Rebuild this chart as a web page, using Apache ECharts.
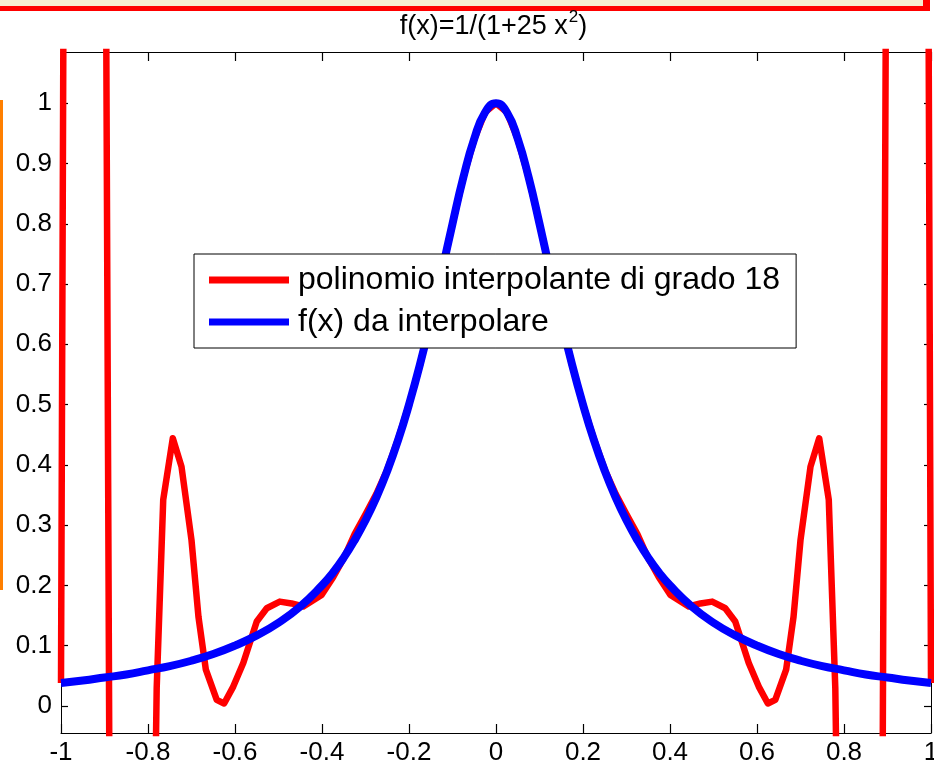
<!DOCTYPE html>
<html>
<head>
<meta charset="utf-8">
<script src="https://cdn.jsdelivr.net/npm/echarts@6/dist/echarts.min.js"></script>
<style>
  html, body { margin: 0; padding: 0; background: #ffffff; }
  #chart { width: 934px; height: 769px; }
</style>
</head>
<body>
<div id="chart"></div>
<script>
// Runge example: f(x) = 1/(1+25x^2) and its degree-18 interpolating polynomial
const xTicks = [-1, -0.8, -0.6, -0.4, -0.2, 0, 0.2, 0.4, 0.6, 0.8, 1];
const yTicks = [0, 0.1, 0.2, 0.3, 0.4, 0.5, 0.6, 0.7, 0.8, 0.9, 1];

// degree-18 interpolant (values far outside the box are clipped)
const polyX = [
  -1.000, -0.980, -0.960, -0.940, -0.920, -0.900, -0.880, -0.860, -0.840, -0.820,
  -0.800, -0.780, -0.765, -0.743, -0.723, -0.700, -0.684, -0.667, -0.642, -0.625,
  -0.604, -0.581, -0.550, -0.527, -0.497, -0.470, -0.443, -0.401, -0.374, -0.350,
  -0.325, -0.300, -0.275, -0.250, -0.225, -0.200, -0.175, -0.150, -0.125, -0.100,
  -0.075, -0.050, -0.025, 0.000,
  0.025, 0.050, 0.075, 0.100, 0.125, 0.150, 0.175, 0.200, 0.225, 0.250,
  0.275, 0.300, 0.325, 0.350, 0.374, 0.401, 0.443, 0.470, 0.497, 0.527,
  0.550, 0.581, 0.604, 0.625, 0.642, 0.667, 0.684, 0.700, 0.723, 0.743,
  0.765, 0.780, 0.800, 0.820, 0.840, 0.860, 0.880, 0.900, 0.920, 0.940,
  0.960, 0.980, 1.000
];
const polyY = [
  0.038, 4.0, 12.0, 14.5, 9.0, 1.8, -1.6, -2.8, -3.0, -2.3,
  -1.0, 0.030, 0.342, 0.444, 0.397, 0.275, 0.148, 0.060, 0.010, 0.004,
  0.032, 0.071, 0.140, 0.162, 0.173, 0.170, 0.165, 0.184, 0.214, 0.245,
  0.285, 0.318, 0.352, 0.392, 0.443, 0.500, 0.565, 0.640, 0.718, 0.800,
  0.877, 0.940, 0.985, 1.000,
  0.985, 0.940, 0.877, 0.800, 0.718, 0.640, 0.565, 0.500, 0.443, 0.392,
  0.352, 0.318, 0.285, 0.245, 0.214, 0.184, 0.165, 0.170, 0.173, 0.162,
  0.140, 0.071, 0.032, 0.004, 0.010, 0.060, 0.148, 0.275, 0.397, 0.444,
  0.342, 0.030, -1.0, -2.3, -3.0, -2.8, -1.6, 1.8, 9.0, 14.5,
  12.0, 4.0, 0.038
];

// the function being interpolated
const funcX = [
  -1.000, -0.950, -0.900, -0.850, -0.800, -0.750, -0.700, -0.650, -0.600, -0.550,
  -0.500, -0.450, -0.400, -0.375, -0.350, -0.325, -0.300, -0.275, -0.250, -0.225,
  -0.200, -0.175, -0.150, -0.125, -0.100, -0.075, -0.050, -0.025, 0.000,
  0.025, 0.050, 0.075, 0.100, 0.125, 0.150, 0.175, 0.200, 0.225, 0.250,
  0.275, 0.300, 0.325, 0.350, 0.375, 0.400, 0.450, 0.500, 0.550, 0.600,
  0.650, 0.700, 0.750, 0.800, 0.850, 0.900, 0.950, 1.000
];
const funcY = [
  0.038, 0.042, 0.047, 0.052, 0.059, 0.066, 0.075, 0.086, 0.100, 0.117,
  0.138, 0.165, 0.200, 0.221, 0.246, 0.275, 0.308, 0.346, 0.390, 0.441,
  0.500, 0.566, 0.640, 0.719, 0.800, 0.877, 0.941, 0.985, 1.000,
  0.985, 0.941, 0.877, 0.800, 0.719, 0.640, 0.566, 0.500, 0.441, 0.390,
  0.346, 0.308, 0.275, 0.246, 0.221, 0.200, 0.165, 0.138, 0.117, 0.100,
  0.086, 0.075, 0.066, 0.059, 0.052, 0.047, 0.042, 0.038
];

const seriesNames = ['polinomio interpolante di grado 18', 'f(x) da interpolare'];
const titleMain = 'f(x)=1/(1+25 x';
const titleSup = '2';
const titleEnd = ')';

const FONT = '"Liberation Sans", Arial, Helvetica, sans-serif';
const TITLE_SIZE = 27;
const SUP_SIZE = 17;

const polyData = polyX.map((x, i) => [x, polyY[i]]);
const funcData = funcX.map((x, i) => [x, funcY[i]]);

const tickFmt = v => String(Math.round(v * 10) / 10);

// measure the title pieces so the superscript can sit right after the x
const measureCtx = document.createElement('canvas').getContext('2d');
function textWidth(str, size) {
  measureCtx.font = size + 'px ' + FONT;
  return measureCtx.measureText(str).width;
}
const wMain = textWidth(titleMain, TITLE_SIZE);
const wSup = textWidth(titleSup, SUP_SIZE);
const wEnd = textWidth(titleEnd, TITLE_SIZE);
const titleCenter = 493;
const titleStart = titleCenter - (wMain + wSup + wEnd) / 2;

const chart = echarts.init(document.getElementById('chart'), null, { renderer: 'canvas' });

function xAxisDef(pos, showLabel) {
  return {
    type: 'value', position: pos, min: -1, max: 1,
    axisLine: { show: true, onZero: false, lineStyle: { color: '#000', width: 1 } },
    axisTick: { show: true, inside: true, length: 9, customValues: xTicks, lineStyle: { color: '#000', width: 1.2 } },
    axisLabel: {
      show: showLabel, customValues: xTicks, formatter: tickFmt,
      color: '#000', fontSize: 26, fontFamily: FONT, margin: 7
    },
    splitLine: { show: false }
  };
}
function yAxisDef(pos, showLabel) {
  return {
    type: 'value', position: pos, min: -0.045, max: 1.085,
    axisLine: { show: true, onZero: false, lineStyle: { color: '#000', width: 1 } },
    axisTick: { show: true, inside: true, length: 7, customValues: yTicks, lineStyle: { color: '#000', width: 1.2 } },
    axisLabel: {
      show: showLabel, customValues: yTicks, formatter: tickFmt,
      color: '#000', fontSize: 26, fontFamily: FONT, margin: 9
    },
    splitLine: { show: false }
  };
}

const titleStyle = { fontFamily: FONT, fill: '#000', verticalAlign: 'middle', align: 'left' };

chart.setOption({
  animation: false,
  backgroundColor: '#ffffff',
  grid: { left: 61, top: 52, right: 3, bottom: 36, outerBoundsMode: 'none', containLabel: false },
  xAxis: [xAxisDef('bottom', true), xAxisDef('top', false)],
  yAxis: [yAxisDef('left', true), yAxisDef('right', false)],
  legend: {
    data: seriesNames,
    orient: 'vertical',
    left: 194, top: 254,
    padding: [8, 16, 8, 15],
    itemGap: 6,
    itemWidth: 80, itemHeight: 7,
    icon: 'rect',
    borderColor: '#000', borderWidth: 1,
    backgroundColor: '#fff',
    textStyle: { color: '#000', fontSize: 32, fontFamily: FONT, lineHeight: 36, padding: [0, 0, 0, 4] }
  },
  series: [
    {
      name: seriesNames[0], type: 'line', data: polyData,
      xAxisIndex: 0, yAxisIndex: 0,
      showSymbol: false, clip: true, color: '#ff0000',
      lineStyle: { color: '#ff0000', width: 6.5, join: 'round' },
      z: 2
    },
    {
      name: seriesNames[1], type: 'line', data: funcData,
      xAxisIndex: 0, yAxisIndex: 0,
      showSymbol: false, clip: true, smooth: 0.5, color: '#0000ff',
      lineStyle: { color: '#0000ff', width: 8, join: 'round' },
      z: 3
    }
  ],
  graphic: [
    // page frame pieces around the figure
    { type: 'rect', shape: { x: 0, y: 0, width: 923, height: 6 }, style: { fill: '#f7ecd2' }, silent: true },
    { type: 'rect', shape: { x: 0, y: 6, width: 930, height: 5 }, style: { fill: '#ff0000' }, silent: true },
    { type: 'rect', shape: { x: 923, y: 0, width: 7, height: 11 }, style: { fill: '#ff0000' }, silent: true },
    { type: 'rect', shape: { x: 0, y: 100, width: 3, height: 490 }, style: { fill: '#ff7f00' }, silent: true },
    // title with superscript exponent
    { type: 'text', x: titleStart, y: 27, silent: true,
      style: Object.assign({ text: titleMain, fontSize: TITLE_SIZE }, titleStyle) },
    { type: 'text', x: titleStart + wMain + 1, y: 17, silent: true,
      style: Object.assign({ text: titleSup, fontSize: SUP_SIZE }, titleStyle) },
    { type: 'text', x: titleStart + wMain + wSup + 1, y: 27, silent: true,
      style: Object.assign({ text: titleEnd, fontSize: TITLE_SIZE }, titleStyle) }
  ]
});
</script>
</body>
</html>
